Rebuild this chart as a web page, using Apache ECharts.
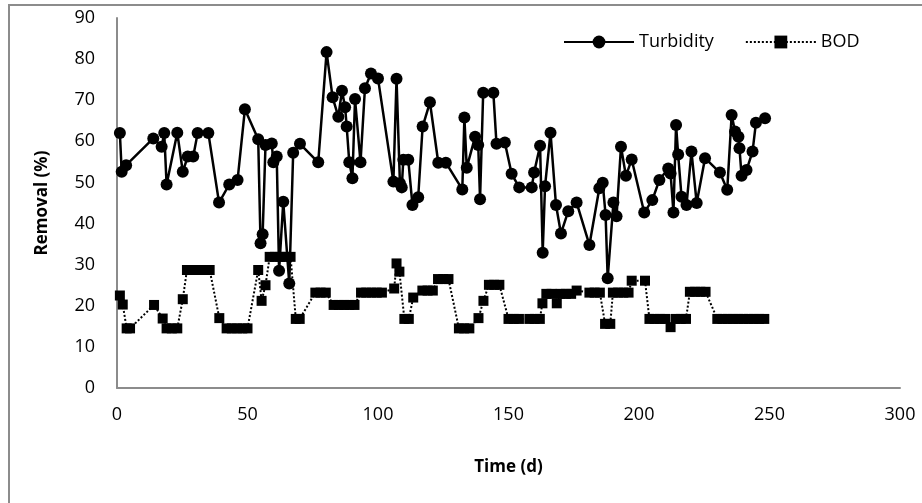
<!DOCTYPE html>
<html>
<head>
<meta charset="utf-8">
<script src="https://cdn.jsdelivr.net/npm/echarts@6/dist/echarts.min.js"></script>
<style>
html,body{margin:0;padding:0;background:#fff;}
#chart{width:922px;height:503px;}
</style>
</head>
<body>
<div id="chart"></div>
<script>
// Turbidity removal (%) vs time (d)
const turbDays = [1.1,1.8,3.5,13.9,17.1,18.1,19.0,23.1,25.2,27.1,29.2,30.9,35.0,39.1,43.0,46.2,49.0,54.1,55.0,55.8,56.9,59.3,59.9,61.2,62.1,63.7,66.0,67.5,70.1,77.1,80.3,82.6,84.8,86.2,87.4,88.0,89.0,90.2,91.2,93.3,95.0,97.3,100.0,105.9,107.1,108.4,109.1,109.7,111.6,113.2,115.4,117.1,119.9,123.1,126.0,132.3,133.1,134.0,137.2,138.4,139.1,140.3,144.2,145.4,148.6,151.2,154.1,158.9,159.8,162.1,163.1,164.0,166.1,168.2,170.1,172.9,176.1,181.0,184.8,186.1,187.2,188.0,190.2,191.4,193.1,195.0,197.2,202.0,205.1,207.8,211.2,212.1,213.2,214.2,215.0,216.3,218.2,220.1,222.1,225.3,231.0,233.8,235.5,236.8,238.1,238.5,239.3,241.2,243.5,244.8,248.3];
const turbValues = [62.0,52.6,54.2,60.7,58.7,62.0,49.5,62.1,52.6,56.3,56.3,62.0,62.0,45.1,49.5,50.6,67.8,60.5,35.2,37.4,59.1,59.5,54.9,56.3,28.5,45.3,25.4,57.2,59.4,54.9,81.7,70.7,66.0,72.3,68.3,63.6,54.9,51.0,70.3,54.9,72.9,76.5,75.3,50.2,75.2,49.8,48.8,55.5,55.5,44.5,46.4,63.6,69.5,54.8,54.8,48.3,65.8,53.6,61.1,59.1,45.9,71.8,71.8,59.4,59.7,52.1,48.8,48.8,52.4,58.9,32.9,49.1,62.1,44.5,37.6,43.0,45.1,34.8,48.6,49.9,42.1,26.7,45.1,41.8,58.7,51.6,55.6,42.7,45.7,50.6,53.4,52.2,42.7,64.0,56.8,46.5,44.5,57.5,45.0,55.9,52.4,48.2,66.4,62.4,61.1,58.3,51.6,53.0,57.5,64.5,65.6];

// BOD removal (%) vs time (d)
const bodDays = [1.1,2.2,3.7,5.0,14.2,17.5,19.0,21.0,23.1,25.2,26.8,29.0,31.0,33.0,35.5,39.2,42.0,44.0,46.0,48.0,50.0,54.1,55.4,56.9,58.5,60.5,62.5,64.5,66.5,68.5,70.0,76.0,78.0,80.0,83.0,85.0,87.0,89.0,91.0,93.5,95.5,97.5,99.5,101.5,106.2,107.1,108.2,110.1,111.8,113.5,117.0,119.0,121.0,123.0,125.0,127.0,131.0,133.0,135.0,138.5,140.4,142.5,144.5,146.5,150.0,152.0,154.0,158.0,160.0,162.0,163.0,164.5,166.5,168.5,170.0,172.0,174.0,176.1,181.0,183.0,185.0,187.0,189.0,190.0,192.0,194.0,196.0,197.2,202.3,204.0,206.0,208.0,210.0,212.1,214.0,216.0,218.0,219.5,221.5,223.5,225.5,230.0,232.0,234.0,236.0,238.0,240.0,242.0,244.0,246.0,248.0];
const bodValues = [22.5,20.3,14.5,14.5,20.2,16.9,14.5,14.5,14.5,21.6,28.7,28.7,28.7,28.7,28.7,17.0,14.5,14.5,14.5,14.5,14.5,28.7,21.2,25.0,31.9,31.9,31.9,31.9,31.9,16.8,16.8,23.2,23.2,23.2,20.2,20.2,20.2,20.2,20.2,23.2,23.2,23.2,23.2,23.2,24.2,30.3,28.3,16.8,16.8,22.0,23.7,23.7,23.7,26.5,26.5,26.5,14.5,14.5,14.5,17.0,21.2,25.1,25.1,25.1,16.8,16.8,16.8,16.8,16.8,16.8,20.6,22.9,22.9,20.6,22.9,22.9,22.9,23.7,23.2,23.2,23.2,15.6,15.6,23.2,23.2,23.2,23.2,26.1,26.1,16.8,16.8,16.8,16.8,14.8,16.8,16.8,16.8,23.4,23.4,23.4,23.4,16.8,16.8,16.8,16.8,16.8,16.8,16.8,16.8,16.8,16.8];

const xTicks = [0,50,100,150,200,250,300];
const yTicks = [0,10,20,30,40,50,60,70,80,90];

const pair = (xs, ys) => xs.map((x, i) => [x, ys[i]]);
const FONT = 'Open Sans';

const chart = echarts.init(document.getElementById('chart'), null, {renderer: 'canvas'});
chart.setOption({
  animation: false,
  backgroundColor: '#fff',
  textStyle: {fontFamily: FONT},
  graphic: [{
    type: 'rect', silent: true, z: -1,
    shape: {x: 9, y: 5, width: 940, height: 540},
    style: {fill: 'none', stroke: '#8c8c8c', lineWidth: 2}
  }],
  grid: {left: 117, top: 18, right: 22, bottom: 115, containLabel: false},
  legend: {
    data: ['Turbidity', 'BOD'],
    left: 558, top: 28,
    itemWidth: 70, itemHeight: 16, itemGap: 31,
    textStyle: {fontFamily: FONT, fontSize: 18, color: '#000', padding: [0,0,0,0]}
  },
  xAxis: {
    type: 'value', min: xTicks[0], max: xTicks[xTicks.length-1], interval: 50,
    name: 'Time (d)', nameLocation: 'middle', nameGap: 71,
    nameTextStyle: {fontFamily: FONT, fontSize: 17, fontWeight: 'bold', color: '#000'},
    axisLine: {show: true, lineStyle: {color: '#8c8c8c', width: 2}},
    axisTick: {show: false},
    splitLine: {show: false},
    axisLabel: {margin: 18, fontFamily: FONT, fontSize: 18, color: '#000'}
  },
  yAxis: {
    type: 'value', min: yTicks[0], max: yTicks[yTicks.length-1], interval: 10,
    name: 'Removal (%)', nameLocation: 'middle', nameGap: 66,
    nameTextStyle: {fontFamily: FONT, fontSize: 17, fontWeight: 'bold', color: '#000'},
    axisLine: {show: true, lineStyle: {color: '#8c8c8c', width: 2}},
    axisTick: {show: false},
    splitLine: {show: false},
    axisLabel: {margin: 22, fontFamily: FONT, fontSize: 18, color: '#000'}
  },
  series: [
    {
      name: 'BOD', type: 'line', data: pair(bodDays, bodValues),
      symbol: 'rect', symbolSize: 10,
      itemStyle: {color: '#000'},
      lineStyle: {color: '#000', width: 2, type: 'dotted'},
      z: 2
    },
    {
      name: 'Turbidity', type: 'line', data: pair(turbDays, turbValues),
      symbol: 'circle', symbolSize: 12,
      itemStyle: {color: '#000'},
      lineStyle: {color: '#000', width: 2.5},
      z: 3
    }
  ]
});
</script>
</body>
</html>
